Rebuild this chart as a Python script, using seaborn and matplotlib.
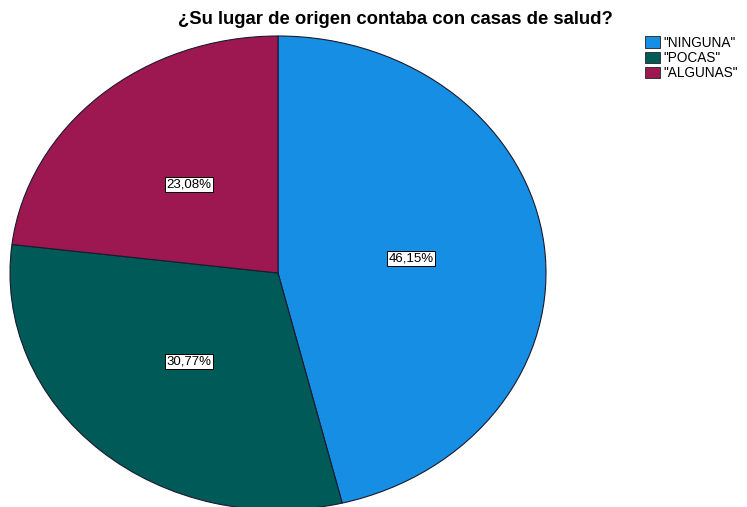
import matplotlib
matplotlib.use("Agg")
import matplotlib.pyplot as plt
import seaborn as sns
from matplotlib.patches import Patch

# data
categories = ['"NINGUNA"', '"POCAS"', '"ALGUNAS"']
percentages = [46.15, 30.77, 23.08]
colors = ["#168ee3", "#005a57", "#9d1850"]

sns.set_theme(style="white")
plt.rcParams['font.family'] = ['Liberation Sans', 'DejaVu Sans']

fig = plt.figure(figsize=(7.47, 5.07), dpi=100)

# pie is an ellipse in the original, so stretch the axes
W, H = 747, 507
ax = fig.add_axes([10 / W, (H - 510) / H, 536 / W, 474 / H])

wedges, texts, autotexts = ax.pie(
    percentages,
    colors=colors,
    startangle=90,
    counterclock=False,
    autopct=lambda p: f"{p:.2f}%".replace(".", ","),
    pctdistance=0.5,
    wedgeprops=dict(edgecolor="#1a1a2e", linewidth=0.8),
    radius=1,
)
for t in autotexts:
    t.set_fontsize(9.5)
    t.set_color("black")
    t.set_bbox(dict(facecolor="white", edgecolor="black", linewidth=0.7, pad=1.2))

ax.set_aspect("auto")
ax.set_xlim(-1.0, 1.0)
ax.set_ylim(-1.0, 1.0)
ax.axis("off")

fig.text(395 / W, 1 - 20 / H, "¿Su lugar de origen contaba con casas de salud?",
         ha="center", va="center", fontsize=13.3, fontweight="bold", color="black")

handles = [Patch(facecolor=c, edgecolor="#333333", linewidth=0.7) for c in colors]
fig.legend(handles, categories, loc="upper left", bbox_to_anchor=(645 / W, 1 - 36 / H),
           frameon=False, fontsize=9.8, handlelength=1.1, handleheight=0.95,
           handletextpad=0.25, labelspacing=0.08, borderpad=0, borderaxespad=0,
           labelcolor="black")

fig.savefig("out.png", dpi=100)
